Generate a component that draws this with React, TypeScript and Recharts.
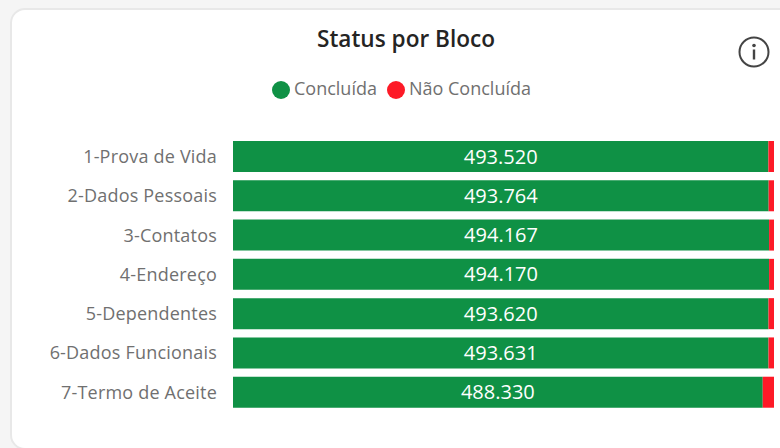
import { BarChart, Bar, XAxis, YAxis, LabelList, Legend } from 'recharts';

const blocos = [
  '1-Prova de Vida',
  '2-Dados Pessoais',
  '3-Contatos',
  '4-Endereço',
  '5-Dependentes',
  '6-Dados Funcionais',
  '7-Termo de Aceite',
];
const concluida = [493520, 493764, 494167, 494170, 493620, 493631, 488330];
const naoConcluida = [5180, 4936, 4533, 4530, 5080, 5069, 10370];

const chartData = blocos.map((bloco, i) => ({
  bloco,
  concluida: concluida[i],
  naoConcluida: naoConcluida[i],
}));

const VERDE = '#0f9145';
const VERMELHO = '#fd1a27';
const FONT = '"Open Sans", "Noto Sans", sans-serif';

const formatValue = (v: unknown) => Number(v).toLocaleString('de-DE');

function InfoIcon() {
  return (
    <svg width={34} height={34} style={{ position: 'absolute', left: 737, top: 35 }}>
      <circle cx={17} cy={17} r={14.5} fill="none" stroke="#444" strokeWidth={2} />
      <circle cx={17} cy={10.5} r={1.8} fill="#444" />
      <rect x={15.8} y={14.5} width={2.4} height={10} fill="#444" />
    </svg>
  );
}

export default function App() {
  return (
    <div style={{ position: 'fixed', left: 0, top: 0, width: 780, height: 448, background: '#f5f5f5', overflow: 'hidden', fontFamily: FONT }}>
      <div
        style={{
          position: 'absolute',
          left: 10,
          top: 8,
          width: 790,
          height: 442,
          boxSizing: 'border-box',
          background: '#fff',
          border: '2px solid #e8e8e8',
          borderRadius: 15,
        }}
      />
      <div style={{ position: 'absolute', left: 256, width: 300, top: 24, textAlign: 'center', fontSize: 22.6, fontWeight: 600, color: '#252423', lineHeight: '30px' }}>
        Status por Bloco
      </div>
      <InfoIcon />
      <div style={{ position: 'absolute', left: 0, top: 0 }}>
        <BarChart
          width={780}
          height={448}
          data={chartData}
          layout="vertical"
          margin={{ top: 113, right: 6, left: 0, bottom: 36 }}
          barCategoryGap={4}
        >
          <XAxis type="number" hide domain={[0, 498700]} />
          <YAxis
            type="category"
            dataKey="bloco"
            width={233}
            axisLine={false}
            tickLine={false}
            tickMargin={10}
            tick={{ fill: '#707070', fontSize: 18, letterSpacing: 0.2, fontFamily: FONT }}
            interval={0}
          />
          <Legend
            layout="horizontal"
            verticalAlign="top"
            align="left"
            iconType="circle"
            iconSize={18}
            wrapperStyle={{ left: 272, top: 76, width: 300, fontSize: 18 }}
            formatter={(value) => <span style={{ color: '#707070' }}>{value}</span>}
          />
          <Bar dataKey="concluida" name="Concluída" stackId="a" fill={VERDE} isAnimationActive={false}>
            <LabelList dataKey="concluida" position="center" fill="#fff" fontSize={20} fontWeight={500} fontFamily={FONT} formatter={formatValue} />
          </Bar>
          <Bar dataKey="naoConcluida" name="Não Concluída" stackId="a" fill={VERMELHO} isAnimationActive={false} />
        </BarChart>
      </div>
    </div>
  );
}
